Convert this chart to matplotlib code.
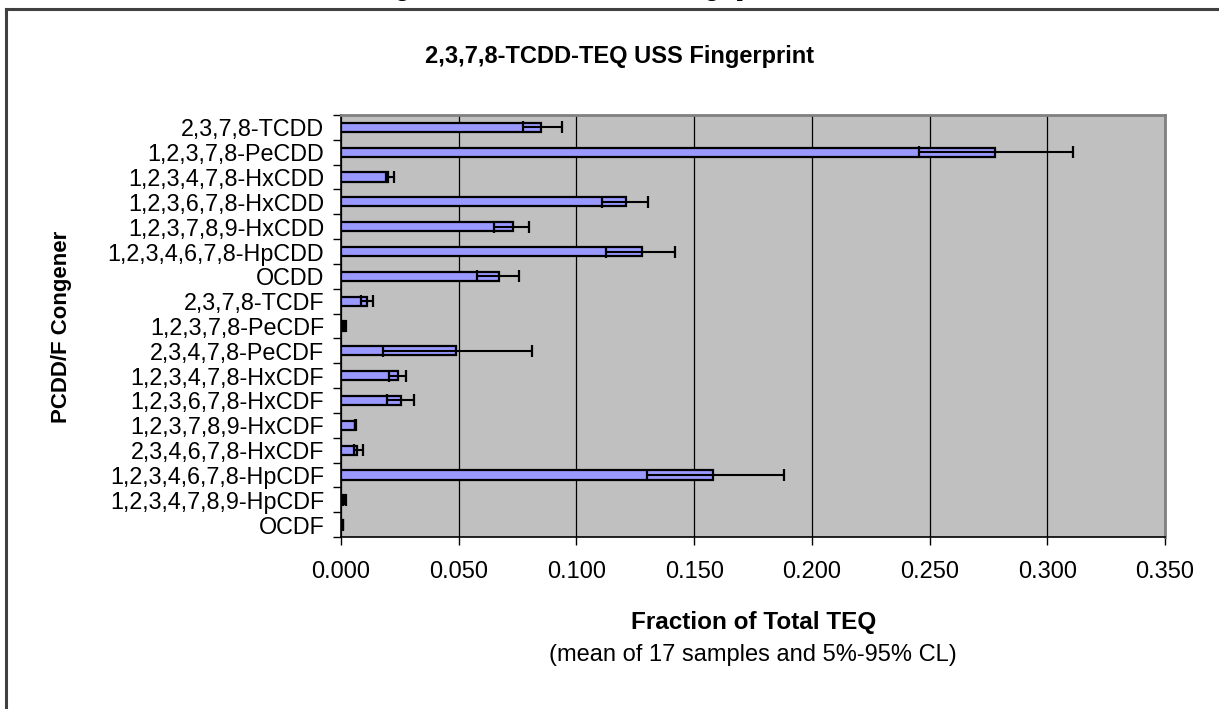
import matplotlib
matplotlib.use("Agg")
import matplotlib.pyplot as plt
import numpy as np
from matplotlib.lines import Line2D
from matplotlib.ticker import FixedLocator, NullFormatter, FixedFormatter

congeners = [
    "2,3,7,8-TCDD", "1,2,3,7,8-PeCDD", "1,2,3,4,7,8-HxCDD", "1,2,3,6,7,8-HxCDD",
    "1,2,3,7,8,9-HxCDD", "1,2,3,4,6,7,8-HpCDD", "OCDD", "2,3,7,8-TCDF",
    "1,2,3,7,8-PeCDF", "2,3,4,7,8-PeCDF", "1,2,3,4,7,8-HxCDF", "1,2,3,6,7,8-HxCDF",
    "1,2,3,7,8,9-HxCDF", "2,3,4,6,7,8-HxCDF", "1,2,3,4,6,7,8-HpCDF",
    "1,2,3,4,7,8,9-HpCDF", "OCDF",
]
mean_frac = [0.085, 0.278, 0.020, 0.121, 0.073, 0.128, 0.067, 0.011,
             0.0017, 0.049, 0.0243, 0.0254, 0.0061, 0.0068, 0.158, 0.0015, 0.0007]
cl_low = [0.0775, 0.2455, 0.019, 0.111, 0.065, 0.1125, 0.0576, 0.0083,
          0.0010, 0.018, 0.0206, 0.0197, 0.0058, 0.0057, 0.130, 0.0010, 0.0005]
cl_high = [0.094, 0.311, 0.0225, 0.1306, 0.080, 0.142, 0.0757, 0.0136,
           0.0022, 0.081, 0.0274, 0.031, 0.0064, 0.0093, 0.188, 0.0022, 0.0009]
x_ticks = [0.0, 0.05, 0.10, 0.15, 0.20, 0.25, 0.30, 0.35]
x_tick_labels = ["0.000", "0.050", "0.100", "0.150", "0.200", "0.250", "0.300", "0.350"]

W, H = 1219, 709
plt.rcParams["font.family"] = ["Liberation Sans", "DejaVu Sans"]
fig = plt.figure(figsize=(W / 100, H / 100), dpi=100)
fig.patch.set_facecolor("white")

# outer chart frame (left and top edges visible)
fig.add_artist(Line2D([6 / W, 6 / W], [0, 1 - 9 / H], transform=fig.transFigure,
                      color="#404040", lw=2.2))
fig.add_artist(Line2D([6 / W, 1], [1 - 9 / H, 1 - 9 / H], transform=fig.transFigure,
                      color="#404040", lw=2.2))
# cut-off page caption at the very top (only descenders visible)
fig.text(378 / W, 1 + 4 / H, "Figure 4-11. 2,3,7,8-TCDD TEQ Fingerprint",
         family=["Liberation Serif", "DejaVu Serif"], weight="bold", fontsize=15.5,
         ha="left", va="baseline")

L, R, T, B = 341, 1165, 115, 537
ax = fig.add_axes([L / W, 1 - B / H, (R - L) / W, (B - T) / H])
ax.set_facecolor("#C0C0C0")

n = len(congeners)
y = np.arange(n)
means = np.array(mean_frac)
lo = means - np.array(cl_low)
hi = np.array(cl_high) - means
ax.barh(y, means, height=0.37, color="#9999FF", edgecolor="black", linewidth=1.6, zorder=3)
ax.errorbar(means, y, xerr=[lo, hi], fmt="none", ecolor="black", elinewidth=1.5,
            capsize=4.3, capthick=1.6, zorder=4)

ax.set_xlim(0, 0.35)
ax.set_ylim(n - 0.5, -0.5)
ax.set_xticks(x_ticks)
ax.set_xticklabels(x_tick_labels)
ax.xaxis.grid(True, color="black", lw=0.9, zorder=1)
ax.set_axisbelow(True)

ax.yaxis.set_major_locator(FixedLocator(np.arange(-0.5, n, 1.0)))
ax.yaxis.set_major_formatter(NullFormatter())
ax.yaxis.set_minor_locator(FixedLocator(y))
ax.yaxis.set_minor_formatter(FixedFormatter(congeners))
ax.tick_params(axis="y", which="major", length=5.5, width=1, direction="out", color="black")
ax.tick_params(axis="y", which="minor", length=0, pad=12, labelsize=16.8)
ax.tick_params(axis="x", length=5.5, width=1, direction="out", pad=12, labelsize=17)

for side in ["top", "right"]:
    ax.spines[side].set_color("#808080")
    ax.spines[side].set_linewidth(2)
ax.spines["left"].set_color("black")
ax.spines["bottom"].set_color("black")
ax.spines["left"].set_linewidth(1.2)
ax.spines["bottom"].set_linewidth(1.2)

fig.text(62 / W, 1 - 327 / H, "PCDD/F Congener", fontsize=16, fontweight="bold",
         rotation=90, ha="center", va="center")
fig.text(620 / W, 1 - 56 / H, "2,3,7,8-TCDD-TEQ USS Fingerprint", fontsize=17,
         fontweight="bold", ha="center", va="center")
fig.text(754 / W, 1 - 622 / H, "Fraction of Total TEQ", fontsize=17.5, fontweight="bold",
         ha="center", va="center")
fig.text(753 / W, 1 - 655 / H, "(mean of 17 samples and 5%-95% CL)", fontsize=17,
         ha="center", va="center")

fig.savefig("out.png", dpi=100)
